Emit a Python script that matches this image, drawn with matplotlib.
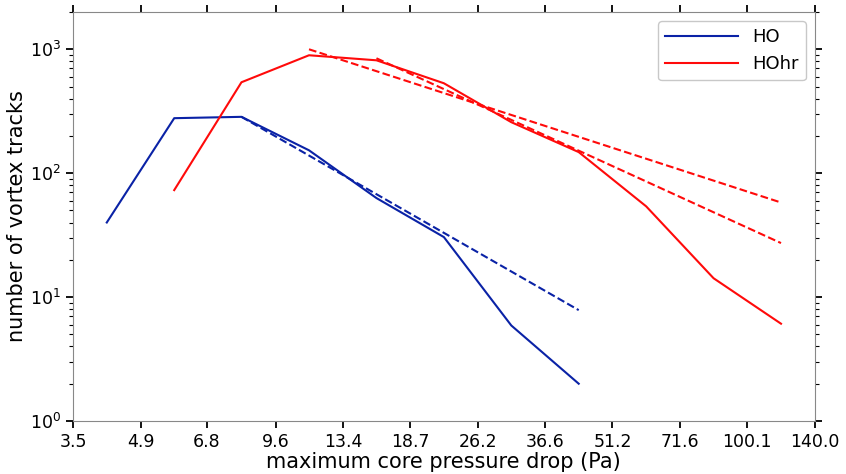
import numpy as np
import matplotlib
matplotlib.use('Agg')
import matplotlib.pyplot as plt
from matplotlib.ticker import LogLocator, NullFormatter, NullLocator

# bin edges (Pa) used as x tick labels
tick_values = [3.5, 4.9, 6.8, 9.6, 13.4, 18.7, 26.2, 36.6, 51.2, 71.6, 100.1, 140.0]
tick_labels = ['3.5', '4.9', '6.8', '9.6', '13.4', '18.7', '26.2', '36.6', '51.2', '71.6', '100.1', '140.0']

# HO histogram (bin centres, counts)
ho_x = [4.14, 5.79, 8.09, 11.32, 15.83, 22.14, 30.96, 43.29]
ho_y = [40, 278, 285, 153, 63, 30.5, 5.9, 2.0]
# HO power-law fit
ho_fit_x = [8.09, 43.29]
ho_fit_y = [285, 7.85]

# HOhr histogram
hohr_x = [5.79, 8.09, 11.32, 15.83, 22.14, 30.96, 43.29, 60.55, 84.66, 118.4]
hohr_y = [73, 542, 895, 815, 532, 258, 148, 54, 14.2, 6.1]
# HOhr power-law fits
hohr_fit1_x = [11.32, 118.4]
hohr_fit1_y = [1000, 58]
hohr_fit2_x = [15.83, 118.4]
hohr_fit2_y = [846, 27.3]

blue = '#0a22a6'
red = '#ff0a0a'

fig = plt.figure(figsize=(8.46, 4.74), dpi=100)
ax = fig.add_axes([0.0863, 0.1118, 0.963 - 0.0863, 0.9747 - 0.1118])

ax.plot(ho_x, ho_y, color=blue, lw=1.5, label='HO')
ax.plot(hohr_x, hohr_y, color=red, lw=1.5, label='HOhr')
ax.plot(ho_fit_x, ho_fit_y, color=blue, lw=1.5, ls='--')
ax.plot(hohr_fit1_x, hohr_fit1_y, color=red, lw=1.5, ls='--')
ax.plot(hohr_fit2_x, hohr_fit2_y, color=red, lw=1.5, ls='--')

ax.set_xscale('log')
ax.set_yscale('log')
ax.set_xlim(3.5, 140.0)
ax.set_ylim(1, 2000)

ax.set_xticks(tick_values)
ax.set_xticklabels(tick_labels)
ax.xaxis.set_minor_locator(NullLocator())
ax.xaxis.set_minor_formatter(NullFormatter())
ax.yaxis.set_major_locator(LogLocator(base=10, numticks=10))
ax.yaxis.set_minor_locator(LogLocator(base=10, subs=np.arange(2, 10), numticks=10))

ax.tick_params(which='both', direction='out', top=True, right=True, labelsize=12.5)
ax.tick_params(which='major', length=5, width=1.3)
ax.tick_params(which='minor', length=3, width=0.8)
for s in ax.spines.values():
    s.set_color('#888888')

ax.set_xlabel('maximum core pressure drop (Pa)', fontsize=15, labelpad=1)
ax.set_ylabel('number of vortex tracks', fontsize=15, labelpad=2)

leg = ax.legend(loc='upper right', fontsize=13, handlelength=4, fancybox=True)
leg.get_frame().set_edgecolor('#bbbbbb')

fig.savefig('out.png', dpi=100)
